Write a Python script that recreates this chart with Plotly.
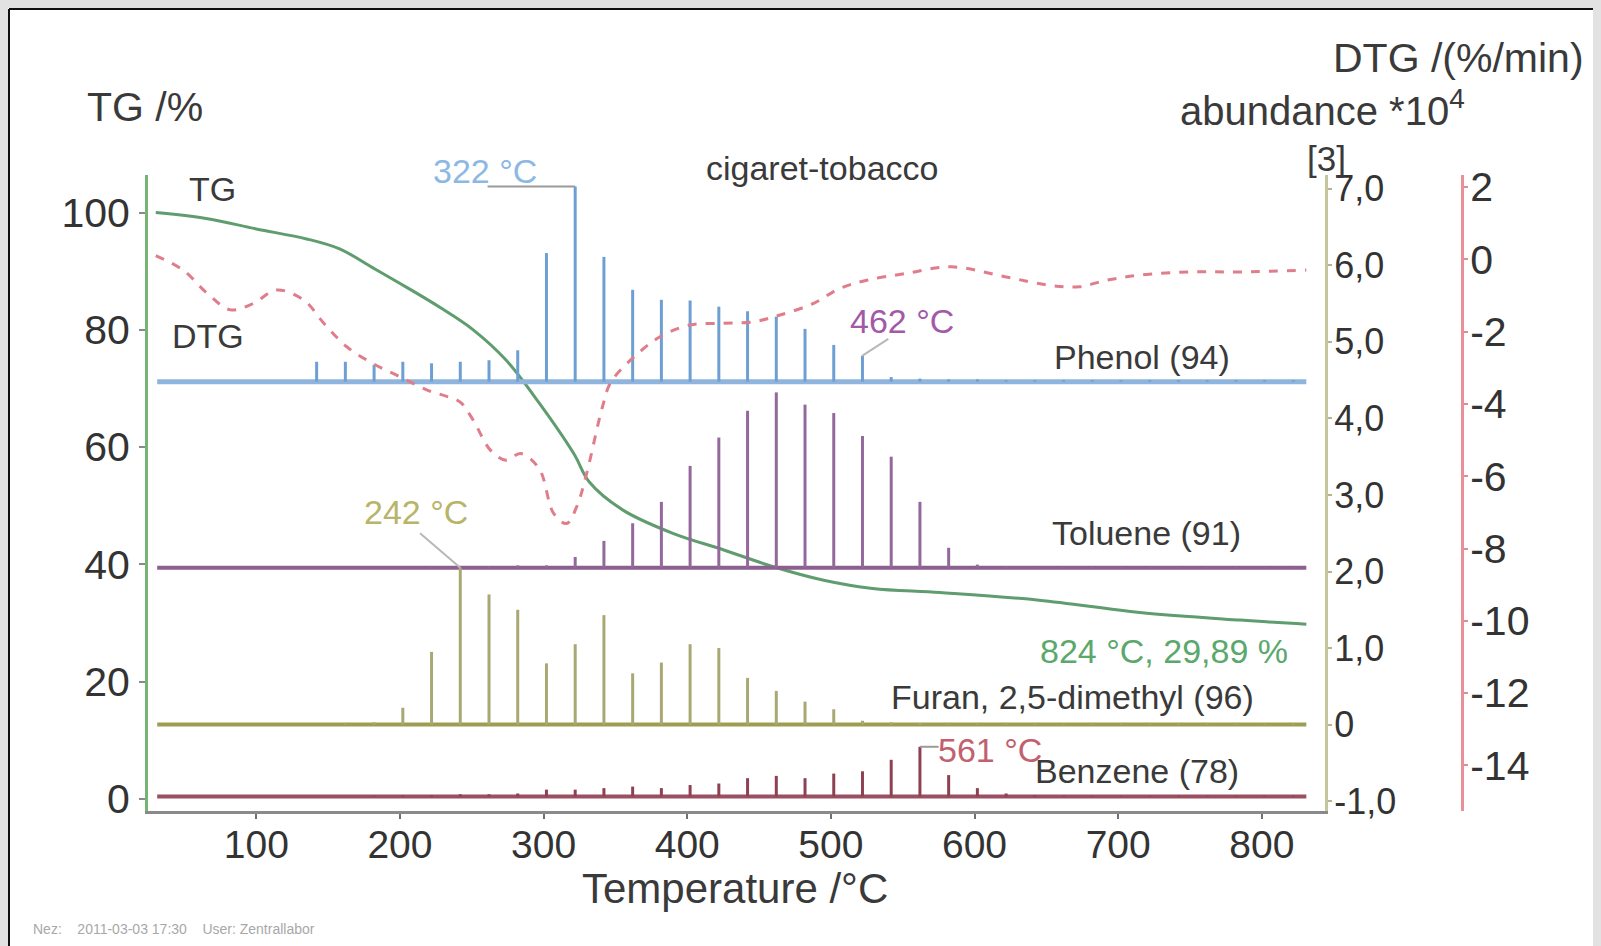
import plotly.graph_objects as go

# ---------------- data ----------------
# TG curve (mass %, left axis)
tg_temp = [30, 65, 100, 135, 158, 181, 205, 228, 251, 274, 297, 321, 332, 355, 390, 425, 460, 495, 529, 576, 645, 715, 785, 831]
tg_val = [100.0, 99.0, 97.2, 95.5, 93.8, 90.6, 87.2, 83.8, 80.0, 74.8, 67.5, 58.9, 54.0, 49.3, 45.3, 42.5, 39.6, 37.3, 35.9, 35.2, 33.9, 31.8, 30.5, 29.8]

# DTG curve (%/min, far right axis)
dtg_temp = [30, 49, 66, 82, 98, 114, 133, 147, 163, 181, 200, 219, 233, 242, 251, 263, 274, 284, 297, 307, 316, 323, 330, 341, 347,
            367, 383, 402, 425, 446, 464, 488, 506, 525, 553, 584, 622, 652, 673, 692, 715, 750, 785, 831]
dtg_val = [0.1, -0.3, -0.95, -1.4, -1.22, -0.85, -1.13, -1.77, -2.42, -2.88, -3.25, -3.62, -3.8, -3.95, -4.45, -5.28, -5.56, -5.37, -5.8, -7.03, -7.31, -6.85, -5.92, -4.08, -3.39,
           -2.56, -2.1, -1.82, -1.77, -1.73, -1.55, -1.22, -0.81, -0.58, -0.39, -0.21, -0.49, -0.72, -0.76, -0.58, -0.44, -0.35, -0.35, -0.3]

# MS ion abundance sticks (abundance *10^4, middle right axis)
ms_temp = [142, 162, 182, 202, 222, 242, 262, 282, 302, 322, 342, 362, 382, 402, 422, 442, 462, 482, 502, 522, 542, 562,
           582, 602, 622, 642, 662, 682, 702, 722, 742, 762, 782, 802, 822]
phenol = [0.26, 0.26, 0.22, 0.26, 0.24, 0.26, 0.28, 0.41, 1.68, 2.55, 1.63, 1.2, 1.07, 1.06, 0.98, 0.92, 0.85, 0.69, 0.48, 0.34, 0.06, 0.04,
          0.03, 0.03, 0.02, 0.02, 0.02, 0.02, 0.02, 0.02, 0.02, 0.02, 0.02, 0.02, 0.02]
toluene = [0.0, 0.0, 0.0, 0.0, 0.01, 0.02, 0.02, 0.03, 0.03, 0.14, 0.35, 0.58, 0.86, 1.33, 1.70, 2.05, 2.29, 2.13, 2.02, 1.72, 1.45, 0.86,
           0.26, 0.04, 0.02, 0.01, 0.01, 0.01, 0.01, 0.01, 0.01, 0.01, 0.01, 0.01, 0.01]
furan = [0.0, 0.01, 0.03, 0.22, 0.95, 2.05, 1.70, 1.50, 0.80, 1.05, 1.43, 0.67, 0.81, 1.05, 1.00, 0.61, 0.44, 0.30, 0.20, 0.05, 0.03, 0.02,
         0.01, 0.01, 0.01, 0.01, 0.01, 0.01, 0.01, 0.01, 0.01, 0.01, 0.01, 0.01, 0.01]
benzene = [0.0, 0.0, 0.01, 0.02, 0.02, 0.03, 0.03, 0.04, 0.09, 0.09, 0.11, 0.13, 0.11, 0.15, 0.17, 0.24, 0.27, 0.24, 0.30, 0.33, 0.48, 0.65,
           0.28, 0.11, 0.04, 0.02, 0.01, 0.01, 0.01, 0.01, 0.01, 0.01, 0.01, 0.01, 0.01]

# vertical offsets of the stacked ion traces (abundance units)
phenol_base = 4.48
toluene_base = 2.05
furan_base = 0.0
benzene_base = -0.94
trace_start, trace_end = 31, 831

x_ticks = [100, 200, 300, 400, 500, 600, 700, 800]
tg_ticks = [0, 20, 40, 60, 80, 100]
ab_ticks = [-1, 0, 1, 2, 3, 4, 5, 6, 7]
ab_ticktext = ["-1,0", "0", "1,0", "2,0", "3,0", "4,0", "5,0", "6,0", "7,0"]
dtg_ticks = [-14, -12, -10, -8, -6, -4, -2, 0, 2]
dtg_ticktext = ["-14", "-12", "-10", "-8", "-6", "-4", "-2", "0", "2"]

# ---------------- layout geometry (pixels) ----------------
W, H = 1601, 946
OFF = 8  # page body margin of the browser
ML, MR, MT, MB = 148 - OFF, W - (1462 - OFF), 175 - OFF, H - (811 - OFF)
PW, PH = W - ML - MR, H - MT - MB
X_END_PX = 1325 - OFF


def px(xs, ys):
    """screen pixel -> paper coords"""
    xf, yf = xs - OFF, ys - OFF
    return (xf - ML) / PW, (H - MB - yf) / PH


FONT = "Liberation Sans, Arial, sans-serif"
TXT = "#3a3a3a"

fig = go.Figure()


def sticks(temps, heights, base, color, width):
    xs, ys = [], []
    for t, h in zip(temps, heights):
        xs += [t, t, None]
        ys += [base, base + h, None]
    return go.Scatter(x=xs, y=ys, yaxis="y2", mode="lines",
                      line=dict(color=color, width=width), hoverinfo="skip")


def baseline(base, color, width):
    return go.Scatter(x=[trace_start, trace_end], y=[base, base], yaxis="y2", mode="lines",
                      line=dict(color=color, width=width), hoverinfo="skip")


for base, vals, lc, bc, bw in [
    (phenol_base, phenol, "#6e9fd2", "#8fb5de", 5),
    (toluene_base, toluene, "#93689b", "#8c5f91", 4),
    (furan_base, furan, "#a9a874", "#9e9e52", 4),
    (benzene_base, benzene, "#8e4152", "#9a5060", 4),
]:
    fig.add_trace(baseline(base, bc, bw))
    fig.add_trace(sticks(ms_temp, vals, base, lc, 3))

fig.add_trace(go.Scatter(x=dtg_temp, y=dtg_val, yaxis="y3", mode="lines",
                         line=dict(color="#e07d8b", width=3, dash="dash"), line_shape="spline"))
fig.add_trace(go.Scatter(x=tg_temp, y=tg_val, yaxis="y", mode="lines",
                         line=dict(color="#5f9c6e", width=3), line_shape="spline"))

# ---------------- leader lines (data coords) ----------------
i322 = ms_temp.index(322)
top322 = phenol_base + phenol[i322]
i242 = ms_temp.index(242)
top242 = furan_base + furan[i242]
i562 = ms_temp.index(562)
top562 = benzene_base + benzene[i562]
i522 = ms_temp.index(522)
top522 = phenol_base + phenol[i522]
shapes = [
    dict(type="line", xref="x", yref="y2", x0=261, x1=322, y0=top322, y1=top322, line=dict(color="#9a9a9a", width=2)),
    dict(type="line", xref="x", yref="y2", x0=242, x1=214, y0=top242, y1=top242 + 0.45, line=dict(color="#b8b8b8", width=2)),
    dict(type="line", xref="x", yref="y2", x0=522, x1=540, y0=top522, y1=top522 + 0.22, line=dict(color="#b8b8b8", width=2)),
    dict(type="line", xref="x", yref="y2", x0=562, x1=575, y0=top562, y1=top562, line=dict(color="#9a9a9a", width=2)),
]

# frame lines of the original screenshot (top and left edges)
xa, ya = px(OFF + 1, OFF + 1)
xr, _ = px(W + OFF, 0)
_, yb = px(0, H + OFF)
shapes += [
    dict(type="line", xref="paper", yref="paper", x0=xa, x1=xr, y0=ya, y1=ya, line=dict(color="#111111", width=2), layer="above"),
    dict(type="line", xref="paper", yref="paper", x0=xa, x1=xa, y0=yb, y1=ya, line=dict(color="#111111", width=2), layer="above"),
]

# ---------------- text ----------------
ann = []


def label(text, xs, ys, size, color=TXT, xanchor="center"):
    x, y = px(xs, ys)
    ann.append(dict(text=text, x=x, y=y, xref="paper", yref="paper", xanchor=xanchor, yanchor="middle",
                    showarrow=False, font=dict(family=FONT, size=size, color=color)))


label("TG /%", 145, 107, 41)
label("DTG /(%/min)", 1458, 58, 41)
label("abundance *10<sup>4</sup>", 1322, 108, 40)
label("[3]", 1326, 158, 35)
label("Temperature /°C", 735, 888, 42)
label("cigaret-tobacco", 822, 168, 34)
label("TG", 212, 189, 34)
label("DTG", 208, 336, 34)
label("Phenol (94)", 1142, 357, 34)
label("Toluene (91)", 1146, 533, 34)
label("Furan, 2,5-dimethyl (96)", 1072, 697, 34)
label("Benzene (78)", 1137, 771, 34)
label("322 °C", 485, 171, 34, "#8db8e4")
label("462 °C", 902, 321, 34, "#a25aa8")
label("242 °C", 416, 512, 34, "#b8b46a")
label("561 °C", 990, 750, 34, "#c2606e")
label("824 °C, 29,89 %", 1164, 651, 34, "#5ba86c")
label("Nez:    2011-03-03 17:30    User: Zentrallabor", 31, 929, 14, "#a8a8a8", xanchor="left")

fig.update_layout(
    width=W, height=H,
    margin=dict(l=ML, r=MR, t=MT, b=MB),
    paper_bgcolor="white", plot_bgcolor="white",
    showlegend=False,
    font=dict(family=FONT, color=TXT),
    xaxis=dict(domain=[0, (X_END_PX - ML) / PW], range=[24.6, 844], tickvals=x_ticks,
               ticks="outside", ticklen=5, tickwidth=2, tickcolor="#707070",
               showline=True, linecolor="#8a8a8a", linewidth=3,
               tickfont=dict(family=FONT, size=39, color="#333333"),
               showgrid=False, zeroline=False, ticklabelstandoff=-8),
    yaxis=dict(range=[-2.05, 106.4], tickvals=tg_ticks, ticks="outside", ticklen=6, tickwidth=2,
               tickcolor="#8a8a8a", showline=True, linecolor="#76b476", linewidth=3,
               tickfont=dict(family=FONT, size=41, color="#333333"),
               showgrid=False, zeroline=False, ticklabelstandoff=1),
    yaxis2=dict(overlaying="y", side="right", anchor="x", range=[-1.129, 7.18],
                tickvals=ab_ticks, ticktext=ab_ticktext, ticks="outside", ticklen=4, tickwidth=2,
                tickcolor="#b5b58c", showline=True, linecolor="#c6c69e", linewidth=3,
                tickfont=dict(family=FONT, size=36, color="#333333"),
                showgrid=False, zeroline=False, ticklabelstandoff=-5),
    yaxis3=dict(overlaying="y", side="right", anchor="free", position=1.0, range=[-15.26, 2.33],
                tickvals=dtg_ticks, ticktext=dtg_ticktext, ticks="outside", ticklen=4, tickwidth=2,
                tickcolor="#e48a96", showline=True, linecolor="#e8909b", linewidth=3,
                tickfont=dict(family=FONT, size=41, color="#333333"),
                showgrid=False, zeroline=False, ticklabelstandoff=-6),
    shapes=shapes,
    annotations=ann,
)

fig.write_html("out.html", post_script="document.body.style.background='#e2e2e2';")
